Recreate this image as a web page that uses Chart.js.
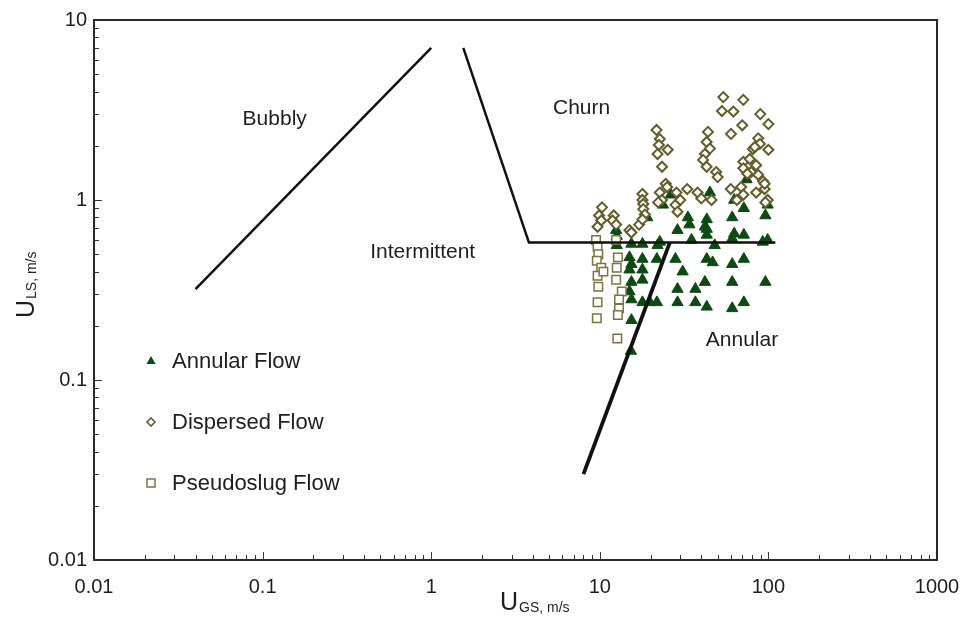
<!DOCTYPE html>
<html>
<head>
<meta charset="utf-8">
<script src="https://cdn.jsdelivr.net/npm/chart.js@4.4.1/dist/chart.umd.min.js"></script>
<style>
html,body{margin:0;padding:0;background:#fff;}
#wrap{width:966px;height:632px;}
</style>
</head>
<body>
<div id="wrap"><canvas id="c" width="966" height="632"></canvas></div>
<script>
// ---- data ----
const xTicks = [0.01, 0.1, 1, 10, 100, 1000];
const xTickLabels = ['0.01', '0.1', '1', '10', '100', '1000'];
const yTicks = [0.01, 0.1, 1, 10];
const yTickLabels = ['0.01', '0.1', '1', '10'];

const annular = [
  [12.5,0.68],[12.6,0.63],[12.6,0.56],
  [15.4,0.57],[15.0,0.48],[15.4,0.44],[15.0,0.41],[15.4,0.35],[15.0,0.31],[15.4,0.28],[15.4,0.215],[15.3,0.145],
  [17.9,0.57],[17.9,0.47],[17.9,0.41],[17.9,0.36],[17.9,0.27],
  [19.1,0.8],[19.8,0.27],
  [21.8,0.47],[21.8,0.27],[22.7,0.585],[22.0,0.56],[23.7,0.94],
  [26.4,1.07],
  [28.1,0.47],[28.9,0.68],[28.9,0.32],[28.9,0.27],[31,0.4],
  [33.3,0.8],[34,0.73],[35,0.6],[36.9,0.32],[36.9,0.27],
  [42,0.71],[42,0.35],[43.1,0.78],[43.1,0.69],[43.1,0.64],[43.1,0.47],[43.1,0.255],[45,1.1],[46.7,0.45],[48,0.56],
  [61,0.8],[61,0.61],[61,0.44],[61,0.35],[61,0.25],[62.7,0.65],[62.7,1.0],
  [71.5,0.64],[71.5,0.47],[71.5,0.27],[74.2,1.3],[71.5,0.9],
  [92.5,0.585],[96,0.82],[96,0.35],[99,0.6],[99,0.94]
];

const dispersed = [
  [10.3,0.91],[9.9,0.82],[10.2,0.77],[9.7,0.71],
  [12.1,0.82],[11.9,0.77],[12.5,0.73],
  [15.0,0.68],[15.4,0.66],[17.1,0.73],
  [17.9,1.08],[17.9,1.0],[18.1,0.95],[18.1,0.89],[18.5,0.83],[17.9,0.78],
  [21.7,2.45],[22.7,2.18],[22.4,2.02],[22.0,1.8],[25.3,1.9],[23.4,1.53],
  [24.6,1.23],[25.1,1.18],[22.7,1.1],[23.4,1.0],[22.2,0.97],[28.1,0.94],[28.9,0.86],
  [28.5,1.1],[33,1.15],[30,1.0],[38,1.1],[40,1.02],
  [43.8,2.39],[43,2.1],[45,1.93],[42,1.8],[41,1.67],[43,1.53],[49,1.43],[46,1.0],[50,1.34],
  [54,3.73],[71,3.6],[53,3.12],[62,3.1],[89.5,3.0],[100,2.64],[70,2.6],[60,2.33],[87,2.2],[89,2.05],[81,1.92],[100,1.9],[83,1.97],
  [71,1.63],[71,1.5],[77.5,1.69],[84.6,1.56],[79,1.43],[87,1.38],[75,1.4],[93,1.27],[95,1.15],[99,1.0],[95,1.23],
  [59.8,1.15],[65,1.0],[69,1.18],[71,1.07],[84.6,1.1],[96,0.97]
];

const pseudoslug = [
  [9.5,0.6],[9.7,0.55],[9.8,0.5],[9.6,0.46],[10.2,0.42],[9.7,0.38],[10.5,0.4],[9.8,0.33],[9.7,0.27],[9.6,0.22],
  [12.5,0.6],[12.8,0.48],[12.6,0.42],[12.5,0.36],[13.5,0.31],[13,0.28],[13,0.25],[12.8,0.23],[12.7,0.17]
];

// flow-regime boundary lines
const bubblyLine = [[0.04,0.32],[1.0,7.0]];
const churnLine = [[1.55,7.0],[3.8,0.58],[110,0.58]];
const annularLine = [[8.0,0.03],[26,0.58]];

const seriesNames = ['Annular Flow', 'Dispersed Flow', 'Pseudoslug Flow'];
const regionNames = ['Bubbly', 'Churn', 'Intermittent', 'Annular'];
const regionAnchors = [[0.118,2.8],[7.8,3.24],[0.89,0.514],[69.7,0.167]];

// ---- chart ----
const toPts = a => a.map(p => ({x:p[0], y:p[1]}));
const FONT = '"Liberation Sans", Arial, Helvetica, sans-serif';
const C_TRI = '#0b4a10';
const C_DIA = '#625d2a';
const C_SQ = '#7a7440';

function drawMarker(ctx, kind, x, y, r) {
  ctx.save();
  ctx.beginPath();
  if (kind === 'tri') {
    ctx.moveTo(x, y - r); ctx.lineTo(x + r*0.9, y + r*0.6); ctx.lineTo(x - r*0.9, y + r*0.6); ctx.closePath();
    ctx.fillStyle = C_TRI; ctx.fill();
  } else if (kind === 'dia') {
    ctx.moveTo(x, y - r); ctx.lineTo(x + r, y); ctx.lineTo(x, y + r); ctx.lineTo(x - r, y); ctx.closePath();
    ctx.fillStyle = '#fff'; ctx.fill(); ctx.lineWidth = 1.6; ctx.strokeStyle = C_DIA; ctx.stroke();
  } else {
    ctx.rect(x - r, y - r, 2*r, 2*r);
    ctx.fillStyle = '#fff'; ctx.fill(); ctx.lineWidth = 1.5; ctx.strokeStyle = C_SQ; ctx.stroke();
  }
  ctx.restore();
}

const overlay = {
  id: 'overlay',
  afterDraw(chart) {
    const ctx = chart.ctx;
    const a = chart.chartArea;
    const xs = chart.scales.x, ys = chart.scales.y;
    ctx.save();
    // frame
    ctx.strokeStyle = '#2a2a2a';
    ctx.lineWidth = 2;
    ctx.strokeRect(a.left, a.top, a.right - a.left, a.bottom - a.top);
    // inward ticks
    ctx.lineWidth = 1;
    ctx.strokeStyle = '#333';
    for (let e = -2; e <= 2; e++) {
      for (let k = 1; k <= 9; k++) {
        const v = k * Math.pow(10, e);
        const px = Math.round(xs.getPixelForValue(v)) + 0.5;
        const len = k === 1 ? 8 : 5;
        ctx.beginPath(); ctx.moveTo(px, a.bottom); ctx.lineTo(px, a.bottom - len); ctx.stroke();
      }
    }
    for (let e = -2; e <= 0; e++) {
      for (let k = 1; k <= 9; k++) {
        const v = k * Math.pow(10, e);
        const py = Math.round(ys.getPixelForValue(v)) + 0.5;
        const len = k === 1 ? 8 : 5;
        ctx.beginPath(); ctx.moveTo(a.left, py); ctx.lineTo(a.left + len, py); ctx.stroke();
      }
    }
    // region labels
    ctx.fillStyle = '#1e1e1e';
    ctx.font = '21px ' + FONT;
    ctx.textAlign = 'center';
    ctx.textBaseline = 'middle';
    regionNames.forEach((t, i) => {
      ctx.fillText(t, xs.getPixelForValue(regionAnchors[i][0]), ys.getPixelForValue(regionAnchors[i][1]));
    });
    // legend
    const kinds = ['tri', 'dia', 'sq'];
    const lx = 151, ly = [361, 422, 483];
    ctx.font = '22px ' + FONT;
    ctx.textAlign = 'left';
    seriesNames.forEach((t, i) => {
      drawMarker(ctx, kinds[i], lx, ly[i], i === 0 ? 5 : 4);
      ctx.fillStyle = '#1e1e1e';
      ctx.fillText(t, 172, ly[i] + 1);
    });
    // x axis title
    ctx.textBaseline = 'alphabetic';
    ctx.textAlign = 'left';
    ctx.font = '25px ' + FONT;
    ctx.fillText('U', 500, 610);
    const uw = ctx.measureText('U').width;
    ctx.font = '14px ' + FONT;
    ctx.fillText('GS, m/s', 500 + uw + 1, 612);
    // y axis title
    ctx.save();
    ctx.translate(34, 318);
    ctx.rotate(-Math.PI / 2);
    ctx.font = '25px ' + FONT;
    ctx.fillText('U', 0, 0);
    const uw2 = ctx.measureText('U').width;
    ctx.font = '14px ' + FONT;
    ctx.fillText('LS, m/s', uw2 + 1, 2);
    ctx.restore();
    ctx.restore();
  }
};

const lineDs = (data, w, ord) => ({
  type: 'line', data: toPts(data), showLine: true, borderColor: '#111', borderWidth: w,
  pointRadius: 0, fill: false, tension: 0, order: ord
});

new Chart(document.getElementById('c'), {
  type: 'scatter',
  data: {
    datasets: [
      lineDs(bubblyLine, 2.5, 0),
      lineDs(churnLine, 2.5, 0),
      lineDs(annularLine, 3.8, 0),
      { label: seriesNames[2], data: toPts(pseudoslug), pointStyle: 'rect', pointRadius: 6,
        backgroundColor: '#fff', borderColor: C_SQ, borderWidth: 1.5, order: 1 },
      { label: seriesNames[1], data: toPts(dispersed), pointStyle: 'rectRot', pointRadius: 5,
        backgroundColor: '#fff', borderColor: C_DIA, borderWidth: 2, order: 2 },
      { label: seriesNames[0], data: toPts(annular), pointStyle: 'triangle', pointRadius: 6.5,
        backgroundColor: C_TRI, borderColor: C_TRI, borderWidth: 1, order: 3 }
    ]
  },
  options: {
    responsive: false,
    devicePixelRatio: 1,
    animation: false,
    layout: { padding: { left: 0, top: 20, right: 29, bottom: 0 } },
    plugins: { legend: { display: false }, tooltip: { enabled: false } },
    scales: {
      x: {
        type: 'logarithmic', min: 0.01, max: 1000,
        grid: { display: false, drawTicks: false }, border: { display: false },
        afterBuildTicks: s => { s.ticks = xTicks.map(v => ({ value: v })); },
        afterFit: s => { s.height = 72; s.paddingLeft = 0; s.paddingRight = 0; },
        ticks: { autoSkip: false, maxRotation: 0, padding: 15, color: '#1e1e1e',
          font: { family: FONT, size: 20 }, callback: (v, i) => xTickLabels[i] }
      },
      y: {
        type: 'logarithmic', min: 0.01, max: 10,
        grid: { display: false, drawTicks: false }, border: { display: false },
        afterBuildTicks: s => { s.ticks = yTicks.map(v => ({ value: v })); },
        afterFit: s => { s.width = 94; s.paddingTop = 0; s.paddingBottom = 0; },
        ticks: { autoSkip: false, padding: 7, color: '#1e1e1e',
          font: { family: FONT, size: 20 }, callback: (v, i) => yTickLabels[i] }
      }
    }
  },
  plugins: [overlay]
});
</script>
</body>
</html>
